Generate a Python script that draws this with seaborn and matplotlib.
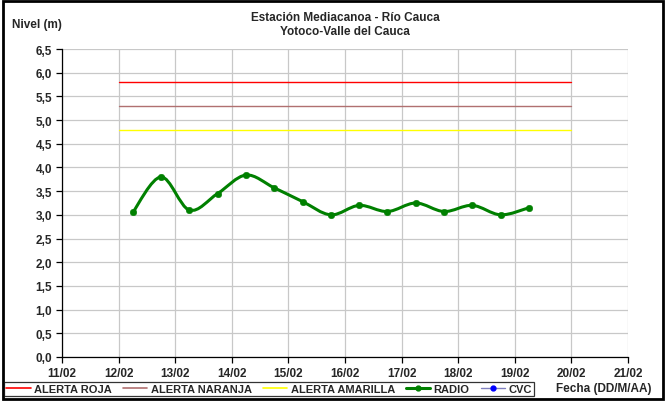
import numpy as np
import pandas as pd
import matplotlib
matplotlib.use("Agg")
import matplotlib.pyplot as plt
import matplotlib.dates as mdates
from matplotlib.path import Path
from matplotlib.patches import PathPatch, Rectangle
from matplotlib.lines import Line2D
import seaborn as sns

# Data
radio_times = pd.date_range("2025-02-12 06:00", periods=15, freq="12h")
radio_level = [3.05, 3.80, 3.10, 3.45, 3.84, 3.57, 3.28, 3.00, 3.20, 3.07, 3.25, 3.07, 3.20, 3.00, 3.15]
alert_start, alert_end = pd.Timestamp("2025-02-12"), pd.Timestamp("2025-02-20")
alert_names = ["ALERTA ROJA", "ALERTA NARANJA", "ALERTA AMARILLA"]
alert_levels = [5.8, 5.3, 4.8]
alert_colors = ["#ff0000", "#b07070", "#ffff00"]
x_ticks = pd.date_range("2025-02-11", "2025-02-21", freq="D")
y_ticks = np.arange(0, 6.51, 0.5)

sns.set_style("white")
plt.rcParams["font.family"] = ["Liberation Sans", "DejaVu Sans"]
plt.rcParams["font.weight"] = "bold"

fig = plt.figure(figsize=(6.67, 4.02), dpi=100)
ax = fig.add_axes([62 / 667, 1 - 358 / 402, 566 / 667, 308 / 402])

# alert lines
for name, lvl, col in zip(alert_names, alert_levels, alert_colors):
    sns.lineplot(x=[alert_start, alert_end], y=[lvl, lvl], ax=ax, color=col, lw=1.0)

# smoothed RADIO curve (Catmull-Rom -> cubic bezier, like Excel smoothing)
xs = mdates.date2num(radio_times)
ys = np.array(radio_level)
verts = [(xs[0], ys[0])]
codes = [Path.MOVETO]
n = len(xs)
for i in range(n - 1):
    p0 = (xs[max(i - 1, 0)], ys[max(i - 1, 0)])
    p1 = (xs[i], ys[i])
    p2 = (xs[i + 1], ys[i + 1])
    p3 = (xs[min(i + 2, n - 1)], ys[min(i + 2, n - 1)])
    c1 = (p1[0] + (p2[0] - p0[0]) / 6, p1[1] + (p2[1] - p0[1]) / 6)
    c2 = (p2[0] - (p3[0] - p1[0]) / 6, p2[1] - (p3[1] - p1[1]) / 6)
    verts += [c1, c2, p2]
    codes += [Path.CURVE4] * 3
ax.add_patch(PathPatch(Path(verts, codes), fill=False, edgecolor="#008000", lw=2.2, zorder=3))
sns.scatterplot(x=radio_times, y=radio_level, ax=ax, color="#008000", s=22, edgecolor="#008000", zorder=4)

ax.set_xlim(x_ticks[0], x_ticks[-1])
ax.set_ylim(0, 6.5)
ax.set_xticks(x_ticks)
ax.set_xticklabels([d.strftime("%d/%m") for d in x_ticks])
ax.set_yticks(y_ticks)
ax.set_yticklabels([f"{v:.1f}".replace(".", ",") for v in y_ticks])
ax.grid(True, color="#c8c8c8", lw=0.9)
ax.set_axisbelow(True)
for s in ["top", "right"]:
    ax.spines[s].set_visible(False)
for s in ["left", "bottom"]:
    ax.spines[s].set_color("black")
    ax.spines[s].set_linewidth(0.9)
ax.tick_params(axis="both", which="major", direction="out", length=4, width=0.9,
               color="black", labelsize=8.5, left=True, bottom=True, pad=3)
ax.set_xlabel("")
ax.set_ylabel("")
for lab in ax.get_xticklabels() + ax.get_yticklabels():
    lab.set_fontweight("bold")
if ax.get_legend():
    ax.get_legend().remove()

fig.text(345 / 667, 1 - 18 / 402, "Estación Mediacanoa - Río Cauca", ha="center", va="center",
         fontsize=8.5, fontweight="bold")
fig.text(345 / 667, 1 - 32 / 402, "Yotoco-Valle del Cauca", ha="center", va="center",
         fontsize=8.5, fontweight="bold")
fig.text(12 / 667, 1 - 25 / 402, "Nivel (m)", ha="left", va="center", fontsize=8.5, fontweight="bold")
fig.text(651 / 667, 1 - 389 / 402, "Fecha (DD/M/AA)", ha="right", va="center", fontsize=8.5,
         fontweight="bold")

handles = [Line2D([], [], color=c, lw=1.2) for c in alert_colors]
handles.append(Line2D([], [], color="#008000", lw=2.2, marker="o", ms=3.5))
handles.append(Line2D([], [], color="#8080c0", lw=1.0, marker="o", ms=3.5, mfc="blue", mec="blue"))
leg = fig.legend(handles, alert_names + ["RADIO", "CVC"], loc="lower left",
                 bbox_to_anchor=(4 / 667, 1 - 397 / 402), ncol=5, fontsize=8, frameon=True,
                 fancybox=False, handlelength=2.2, handletextpad=0.3, columnspacing=1.0,
                 borderpad=0.2, borderaxespad=0)
leg.get_frame().set_edgecolor("black")
leg.get_frame().set_linewidth(0.9)
for t in leg.get_texts():
    t.set_fontweight("bold")

fig.patches.append(Rectangle((0.004, 0.004), 0.99, 0.992, transform=fig.transFigure,
                             fill=False, edgecolor="black", lw=2.0))

fig.savefig("out.png", dpi=100)
